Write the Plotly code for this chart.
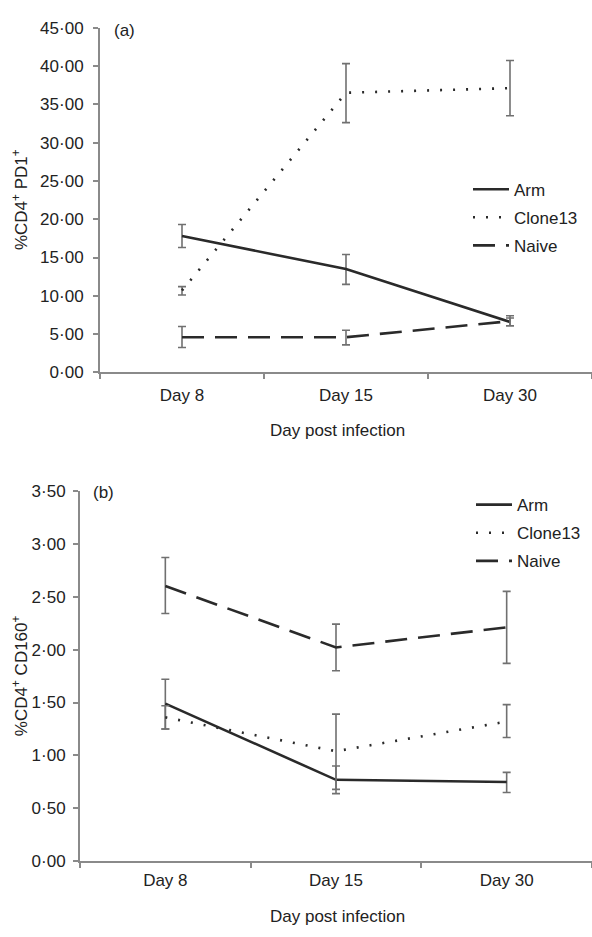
import plotly.graph_objects as go

# ---------------- data ----------------
days = ["Day 8", "Day 15", "Day 30"]
series_names = ["Arm", "Clone13", "Naive"]

# panel (a): %CD4+ PD1+
pd1_arm = [17.8, 13.5, 6.6]
pd1_arm_up = [1.5, 1.9, 0.5]
pd1_arm_dn = [1.5, 2.0, 0.5]
pd1_clone = [10.7, 36.5, 37.1]
pd1_clone_up = [0.5, 3.8, 3.6]
pd1_clone_dn = [0.6, 3.9, 3.6]
pd1_naive = [4.6, 4.6, 6.7]
pd1_naive_up = [1.4, 0.9, 0.7]
pd1_naive_dn = [1.35, 1.0, 0.6]

# panel (b): %CD4+ CD160+
cd160_arm = [1.49, 0.77, 0.75]
cd160_arm_up = [0.23, 0.13, 0.09]
cd160_arm_dn = [0.24, 0.13, 0.10]
cd160_clone = [1.36, 1.04, 1.32]
cd160_clone_up = [0.11, 0.35, 0.16]
cd160_clone_dn = [0.11, 0.36, 0.15]
cd160_naive = [2.60, 2.02, 2.21]
cd160_naive_up = [0.27, 0.22, 0.34]
cd160_naive_dn = [0.26, 0.22, 0.34]

# ---------------- styling ----------------
W, H = 592, 937
FONT = "Liberation Sans, Arial, Helvetica, sans-serif"
TXT = "#222222"
LINE = "#2a2a2a"
AXIS = "#8a8a8a"
ERR = "#707070"
dash_styles = {"Arm": "solid", "Clone13": "2px,11px", "Naive": "22px,11px"}


def px(x):
    return x / W


def py(y):
    return 1 - y / H


fig = go.Figure()


def add_series(name, yvals, up, dn, xa, ya, legend):
    fig.add_trace(go.Scatter(
        x=days, y=yvals, name=name, mode="lines",
        xaxis=xa, yaxis=ya, legend=legend, legendgroup=legend + name,
        line=dict(color=LINE, width=2.6, dash=dash_styles[name]),
        error_y=dict(type="data", array=up, arrayminus=dn, visible=True,
                     color=ERR, thickness=1.6, width=4),
        cliponaxis=False,
    ))


add_series("Arm", pd1_arm, pd1_arm_up, pd1_arm_dn, "x", "y", "legend")
add_series("Clone13", pd1_clone, pd1_clone_up, pd1_clone_dn, "x", "y", "legend")
add_series("Naive", pd1_naive, pd1_naive_up, pd1_naive_dn, "x", "y", "legend")

add_series("Arm", cd160_arm, cd160_arm_up, cd160_arm_dn, "x2", "y2", "legend2")
add_series("Clone13", cd160_clone, cd160_clone_up, cd160_clone_dn, "x2", "y2", "legend2")
add_series("Naive", cd160_naive, cd160_naive_up, cd160_naive_dn, "x2", "y2", "legend2")

xcommon = dict(
    type="category", categoryorder="array", categoryarray=days,
    range=[-0.5, 2.5], showline=True, linecolor=AXIS, linewidth=2,
    ticks="outside", tickson="boundaries", ticklen=5, tickcolor=AXIS,
    tickwidth=1.5, showgrid=False, zeroline=False,
    tickfont=dict(family=FONT, size=17, color=TXT),
)
ycommon = dict(
    showline=True, linecolor=AXIS, linewidth=2, ticks="outside",
    ticklen=5, tickcolor=AXIS, tickwidth=1.5, showgrid=False,
    zeroline=False, tickformat=".2f",
    tickfont=dict(family=FONT, size=17, color=TXT),
)

legend_common = dict(
    xanchor="left", yanchor="top", bgcolor="rgba(0,0,0,0)",
    font=dict(family=FONT, size=17, color=TXT),
    traceorder="grouped", tracegroupgap=3, borderwidth=0, itemwidth=36,
)

fig.update_layout(
    width=W, height=H,
    margin=dict(l=0, r=0, t=0, b=0),
    paper_bgcolor="white", plot_bgcolor="white",
    separators="·,",
    font=dict(family=FONT, size=17, color=TXT),
    xaxis=dict(xcommon, domain=[px(100), 1.0], anchor="y", ticklabelstandoff=6),
    yaxis=dict(ycommon, domain=[py(371), py(19)], anchor="x",
               range=[0, 45], dtick=5, ticklabelstandoff=6),
    xaxis2=dict(xcommon, domain=[px(80), 1.0], anchor="y2", ticklabelstandoff=2),
    yaxis2=dict(ycommon, domain=[py(870), py(491.7)], anchor="x2",
                range=[0, 3.5], dtick=0.5, ticklabelstandoff=4),
    legend=dict(legend_common, x=px(468), y=py(166)),
    legend2=dict(legend_common, x=px(471), y=py(488)),
    showlegend=True,
)

annots = [
    dict(text="(a)", x=px(112), y=py(22), xanchor="left", yanchor="middle"),
    dict(text="(b)", x=px(91), y=py(493), xanchor="left", yanchor="middle"),
    dict(text="Day post infection", x=px(337), y=py(430), xanchor="center", yanchor="middle"),
    dict(text="Day post infection", x=px(337), y=py(926), xanchor="center", yanchor="middle"),
    dict(text="%CD4<sup>+</sup> PD1<sup>+</sup>", x=px(20), y=py(195),
         xanchor="center", yanchor="middle", textangle=-90),
    dict(text="%CD4<sup>+</sup> CD160<sup>+</sup>", x=px(20), y=py(681),
         xanchor="center", yanchor="middle", textangle=-90),
]
for a in annots:
    fig.add_annotation(xref="paper", yref="paper", showarrow=False,
                       font=dict(family=FONT, size=17, color=TXT), **a)

fig.write_html("out.html")
